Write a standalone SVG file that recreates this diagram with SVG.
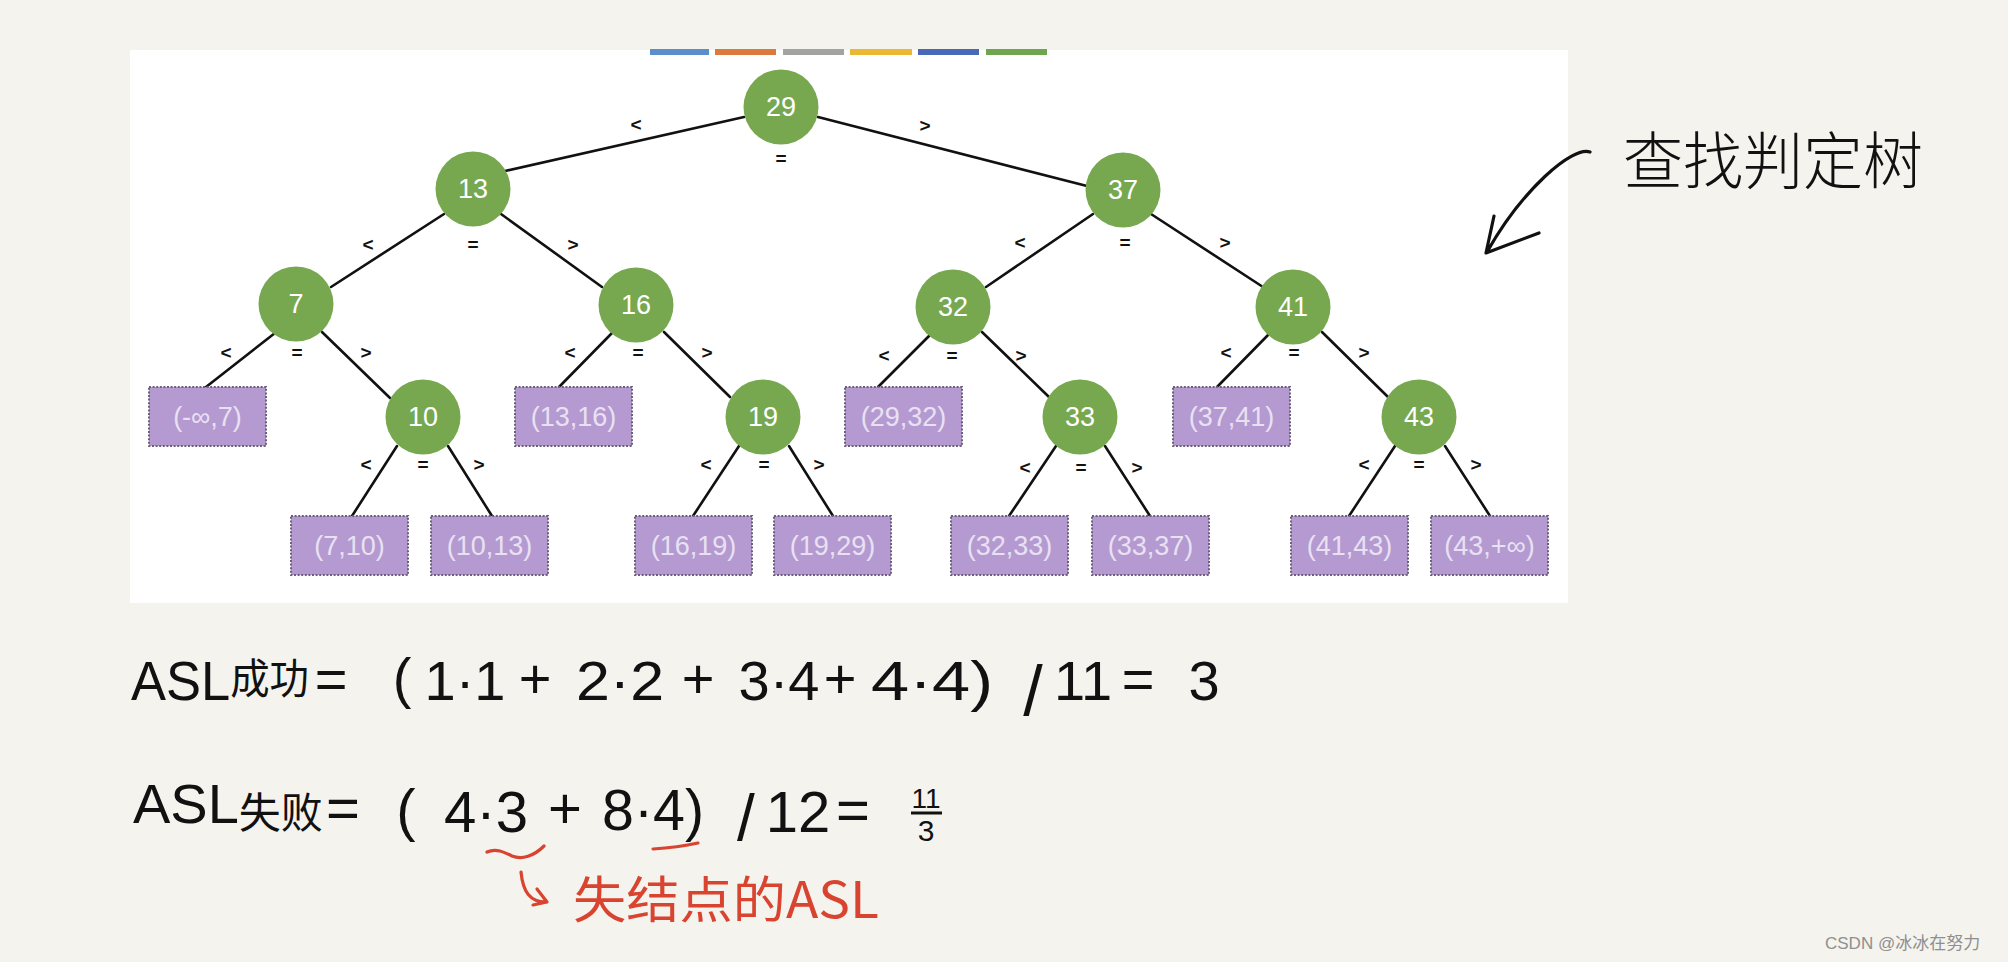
<svg xmlns="http://www.w3.org/2000/svg" width="2008" height="962" viewBox="0 0 2008 962">
<style>
.node circle{fill:#77a84f;}
.node text{fill:#ffffff;font-family:"Liberation Sans",Arial,sans-serif;font-size:27px;text-anchor:middle;dominant-baseline:central;}
.leaf rect{fill:#b49ad1;stroke:#6c5f7c;stroke-width:2;stroke-dasharray:2 1.6;}
.leaf text{fill:#e9e1f2;font-family:"Liberation Sans",Arial,sans-serif;font-size:27px;text-anchor:middle;dominant-baseline:central;}
#edges line{stroke:#111;stroke-width:2.6;stroke-linecap:round;}
.lbl{font-family:"Liberation Sans",Arial,sans-serif;font-size:19px;font-weight:bold;fill:#111;text-anchor:middle;dominant-baseline:central;}
.hw{font-family:"Liberation Sans","Noto Sans CJK SC",sans-serif;fill:#111;text-anchor:middle;}
.cjk{font-family:"Noto Sans CJK SC",sans-serif;}
.red{fill:#d8442f;}
</style>
<rect x="0" y="0" width="2008" height="962" fill="#f5f3ee"/>
<rect x="130" y="50" width="1438" height="553" fill="#ffffff"/>
<g id="colorbars">
<rect x="650" y="49" width="59" height="6" fill="#5b8fcb"/>
<rect x="715" y="49" width="61" height="6" fill="#dc7a3e"/>
<rect x="783" y="49" width="61" height="6" fill="#a3a3a3"/>
<rect x="850" y="49" width="62" height="6" fill="#eab832"/>
<rect x="918" y="49" width="61" height="6" fill="#4769b8"/>
<rect x="986" y="49" width="61" height="6" fill="#6fa54f"/>
</g>
<g id="edges">
<line x1="744" y1="117" x2="505" y2="171"/>
<line x1="818" y1="117" x2="1087" y2="186"/>
<line x1="444" y1="214" x2="331" y2="287"/>
<line x1="501" y1="214" x2="602" y2="287"/>
<line x1="1093" y1="214" x2="986" y2="287"/>
<line x1="1151" y1="214" x2="1263" y2="287"/>
<line x1="275" y1="333" x2="206" y2="387"/>
<line x1="322" y1="332" x2="390" y2="398"/>
<line x1="612" y1="333" x2="559" y2="387"/>
<line x1="664" y1="332" x2="730" y2="397"/>
<line x1="932" y1="333" x2="878" y2="387"/>
<line x1="982" y1="332" x2="1049" y2="397"/>
<line x1="1270" y1="333" x2="1217" y2="387"/>
<line x1="1322" y1="332" x2="1388" y2="397"/>
<line x1="397" y1="446" x2="352" y2="516"/>
<line x1="448" y1="446" x2="492" y2="516"/>
<line x1="739" y1="446" x2="693" y2="516"/>
<line x1="789" y1="446" x2="833" y2="516"/>
<line x1="1056" y1="446" x2="1009" y2="516"/>
<line x1="1105" y1="446" x2="1150" y2="516"/>
<line x1="1395" y1="446" x2="1349" y2="516"/>
<line x1="1445" y1="446" x2="1490" y2="516"/>
</g>
<g id="edge-labels">
<text class="lbl" x="636" y="124">&lt;</text><text class="lbl" x="781" y="158">=</text><text class="lbl" x="925" y="125">&gt;</text>
<text class="lbl" x="368" y="244">&lt;</text><text class="lbl" x="473" y="244">=</text><text class="lbl" x="573" y="244">&gt;</text>
<text class="lbl" x="1020" y="242">&lt;</text><text class="lbl" x="1125" y="242">=</text><text class="lbl" x="1225" y="242">&gt;</text>
<text class="lbl" x="226" y="352">&lt;</text><text class="lbl" x="297" y="352">=</text><text class="lbl" x="366" y="352">&gt;</text>
<text class="lbl" x="570" y="352">&lt;</text><text class="lbl" x="638" y="352">=</text><text class="lbl" x="707" y="352">&gt;</text>
<text class="lbl" x="884" y="355">&lt;</text><text class="lbl" x="952" y="355">=</text><text class="lbl" x="1021" y="355">&gt;</text>
<text class="lbl" x="1226" y="352">&lt;</text><text class="lbl" x="1294" y="352">=</text><text class="lbl" x="1364" y="352">&gt;</text>
<text class="lbl" x="366" y="464">&lt;</text><text class="lbl" x="423" y="464">=</text><text class="lbl" x="479" y="464">&gt;</text>
<text class="lbl" x="706" y="464">&lt;</text><text class="lbl" x="764" y="464">=</text><text class="lbl" x="819" y="464">&gt;</text>
<text class="lbl" x="1025" y="467">&lt;</text><text class="lbl" x="1081" y="467">=</text><text class="lbl" x="1137" y="467">&gt;</text>
<text class="lbl" x="1364" y="464">&lt;</text><text class="lbl" x="1419" y="464">=</text><text class="lbl" x="1476" y="464">&gt;</text>
</g>
<g id="n29" class="node"><circle cx="781" cy="107" r="37.5"/><text x="781" y="107">29</text></g>
<g id="n13" class="node"><circle cx="473" cy="189" r="37.5"/><text x="473" y="189">13</text></g>
<g id="n37" class="node"><circle cx="1123" cy="190" r="37.5"/><text x="1123" y="190">37</text></g>
<g id="n7" class="node"><circle cx="296" cy="304" r="37.5"/><text x="296" y="304">7</text></g>
<g id="n16" class="node"><circle cx="636" cy="305" r="37.5"/><text x="636" y="305">16</text></g>
<g id="n32" class="node"><circle cx="953" cy="307" r="37.5"/><text x="953" y="307">32</text></g>
<g id="n41" class="node"><circle cx="1293" cy="307" r="37.5"/><text x="1293" y="307">41</text></g>
<g id="n10" class="node"><circle cx="423" cy="417" r="37.5"/><text x="423" y="417">10</text></g>
<g id="n19" class="node"><circle cx="763" cy="417" r="37.5"/><text x="763" y="417">19</text></g>
<g id="n33" class="node"><circle cx="1080" cy="417" r="37.5"/><text x="1080" y="417">33</text></g>
<g id="n43" class="node"><circle cx="1419" cy="417" r="37.5"/><text x="1419" y="417">43</text></g>
<g id="l-inf-7" class="leaf"><rect x="149" y="387" width="117" height="59"/><text x="207.5" y="416.5">(-∞,7)</text></g>
<g id="l13-16" class="leaf"><rect x="515" y="387" width="117" height="59"/><text x="573.5" y="416.5">(13,16)</text></g>
<g id="l29-32" class="leaf"><rect x="845" y="387" width="117" height="59"/><text x="903.5" y="416.5">(29,32)</text></g>
<g id="l37-41" class="leaf"><rect x="1173" y="387" width="117" height="59"/><text x="1231.5" y="416.5">(37,41)</text></g>
<g id="l7-10" class="leaf"><rect x="291" y="516" width="117" height="59"/><text x="349.5" y="545.5">(7,10)</text></g>
<g id="l10-13" class="leaf"><rect x="431" y="516" width="117" height="59"/><text x="489.5" y="545.5">(10,13)</text></g>
<g id="l16-19" class="leaf"><rect x="635" y="516" width="117" height="59"/><text x="693.5" y="545.5">(16,19)</text></g>
<g id="l19-29" class="leaf"><rect x="774" y="516" width="117" height="59"/><text x="832.5" y="545.5">(19,29)</text></g>
<g id="l32-33" class="leaf"><rect x="951" y="516" width="117" height="59"/><text x="1009.5" y="545.5">(32,33)</text></g>
<g id="l33-37" class="leaf"><rect x="1092" y="516" width="117" height="59"/><text x="1150.5" y="545.5">(33,37)</text></g>
<g id="l41-43" class="leaf"><rect x="1291" y="516" width="117" height="59"/><text x="1349.5" y="545.5">(41,43)</text></g>
<g id="l43-inf" class="leaf"><rect x="1431" y="516" width="117" height="59"/><text x="1489.5" y="545.5">(43,+∞)</text></g>
<g id="title">
<path d="M1590,152 C1572,146 1522,190 1487,252 M1494,216 L1486,253 L1539,233" fill="none" stroke="#111" stroke-width="3.2" stroke-linecap="round" stroke-linejoin="round"/>
<text class="cjk" x="1623" y="184" font-size="62" textLength="300" lengthAdjust="spacingAndGlyphs" fill="#111" font-weight="300">查找判定树</text>
</g>
<g id="formula1" class="hw" font-size="56">
<text x="131" y="700" text-anchor="start" textLength="178" lengthAdjust="spacingAndGlyphs">ASL<tspan class="cjk" font-size="42" dy="-6">成功</tspan></text>
<text x="331" y="698">=</text>
<text x="402" y="697">(</text>
<text x="465" y="700">1·1</text>
<text x="535" y="698">+</text>
<text x="620" y="700" textLength="88" lengthAdjust="spacingAndGlyphs">2·2</text>
<text x="698" y="698">+</text>
<text x="779" y="700">3·4</text>
<text x="840" y="698">+</text>
<text x="932" y="700" textLength="122" lengthAdjust="spacingAndGlyphs">4·4)</text>
<text x="1033" y="715" font-size="70">/</text>
<text x="1083" y="700">11</text>
<text x="1138" y="698">=</text>
<text x="1204" y="700">3</text>
</g>
<g id="formula2" class="hw" font-size="58">
<text x="133" y="823" text-anchor="start" font-size="56">ASL<tspan class="cjk" font-size="42" dy="5">失败</tspan></text>
<text x="343" y="828">=</text>
<text x="406" y="830">(</text>
<text x="486" y="832" textLength="84" lengthAdjust="spacingAndGlyphs">4·3</text>
<text x="565" y="828">+</text>
<text x="653" y="830" textLength="102" lengthAdjust="spacingAndGlyphs">8·4)</text>
<text x="746" y="840" font-size="64">/</text>
<text x="798" y="832">12</text>
<text x="853" y="830">=</text>
<text x="926" y="808" font-size="28">11</text>
<line x1="911" y1="813" x2="942" y2="813" stroke="#111" stroke-width="3"/>
<text x="926" y="841" font-size="30">3</text>
</g>
<g id="note" fill="none" stroke="#d8442f" stroke-width="3.2" stroke-linecap="round" stroke-linejoin="round">
<path d="M487,852 C496,848 504,852 512,856 C522,860 534,856 544,846"/>
<path d="M653,849 C668,848 684,846 698,843"/>
<path d="M521,872 C523,892 530,902 546,902 M537,889 L547,902 L533,905"/>
</g>
<text class="cjk red" x="573" y="918" font-size="50" textLength="306" lengthAdjust="spacingAndGlyphs">失结点的ASL</text>
<text x="1825" y="949" font-family="Liberation Sans,'Noto Sans CJK SC',sans-serif" font-size="17" fill="#8f8f8f">CSDN @冰冰在努力</text>
</svg>
